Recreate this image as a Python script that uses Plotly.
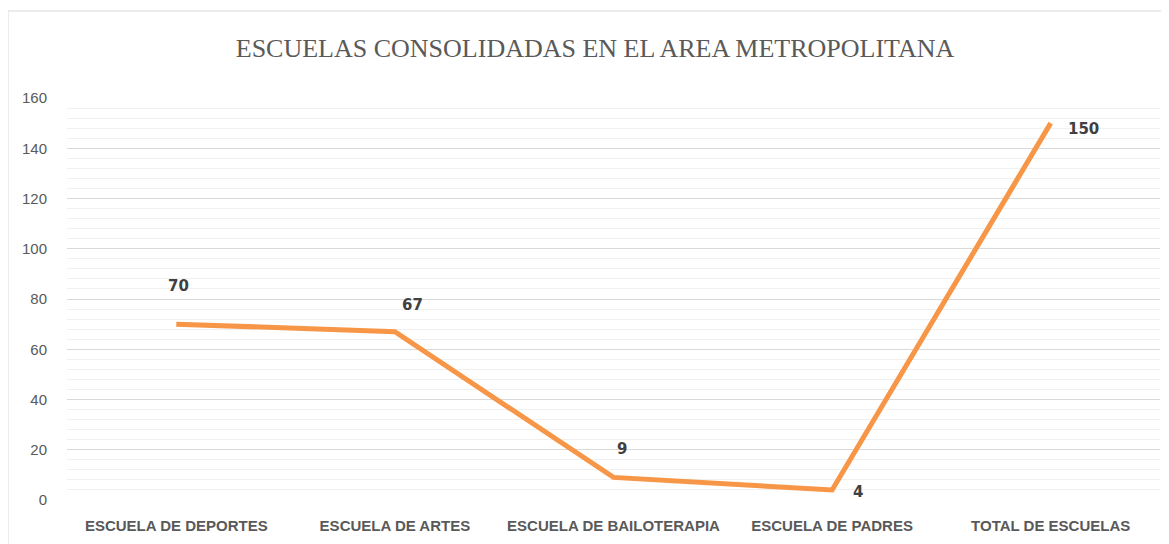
import plotly.graph_objects as go

categories = ["ESCUELA DE DEPORTES", "ESCUELA DE ARTES", "ESCUELA DE BAILOTERAPIA",
              "ESCUELA DE PADRES", "TOTAL DE ESCUELAS"]
values = [70, 67, 9, 4, 150]
label_shift_x = [2, 18, 8, 26, 33]
label_shift_y = [38, 27, 28, -2, -6]
y_ticks = [0, 20, 40, 60, 80, 100, 120, 140, 160]

fig = go.Figure()
fig.add_trace(go.Scatter(
    x=categories, y=values, mode="lines",
    line=dict(color="#F79646", width=5),
    hoverinfo="x+y",
))

for c, v, dx, dy in zip(categories, values, label_shift_x, label_shift_y):
    fig.add_annotation(x=c, y=v, text=str(v), showarrow=False,
                       xshift=dx, yshift=dy,
                       font=dict(family="DejaVu Sans", size=15, color="#404040", weight="bold"))

# page has an 8px body offset; figure coords = page coords - 8
W, H = 1161, 536
L, R, T, B = 59, 9, 90, 44
pw = W - L - R
ph = H - T - B

fig.add_shape(type="rect", xref="paper", yref="paper",
              x0=(0 - L) / pw, x1=(W + 20 - L) / pw,
              y0=-0.3, y1=(H - B - 3) / ph,
              line=dict(color="#D9D9D9", width=1), fillcolor="rgba(0,0,0,0)", layer="below")

fig.update_layout(
    width=W, height=H,
    margin=dict(l=L, r=R, t=T, b=B, autoexpand=False),
    paper_bgcolor="white", plot_bgcolor="white",
    showlegend=False,
    title=dict(text="ESCUELAS CONSOLIDADAS EN EL AREA METROPOLITANA",
               x=(595 - 8) / W, xanchor="center", y=1 - 40 / H, yanchor="middle",
               font=dict(family="Liberation Serif", size=26, color="#595959")),
    xaxis=dict(range=[-0.5, 4.5], showgrid=False, showline=False, zeroline=False,
               automargin=False,
               tickfont=dict(family="Liberation Sans", size=15, color="#595959", weight="bold"),
               ticks="outside", ticklen=12, tickcolor="rgba(0,0,0,0)"),
    yaxis=dict(range=[0, 160], tickvals=y_ticks, showline=False, zeroline=False,
               automargin=False,
               gridcolor="#D9D9D9", gridwidth=1,
               minor=dict(dtick=4, showgrid=True, gridcolor="#F0F0F0", gridwidth=1),
               tickfont=dict(family="Liberation Sans", size=15, color="#595959"),
               ticks="outside", ticklen=16, tickcolor="rgba(0,0,0,0)"),
)

fig.write_html("out.html")
